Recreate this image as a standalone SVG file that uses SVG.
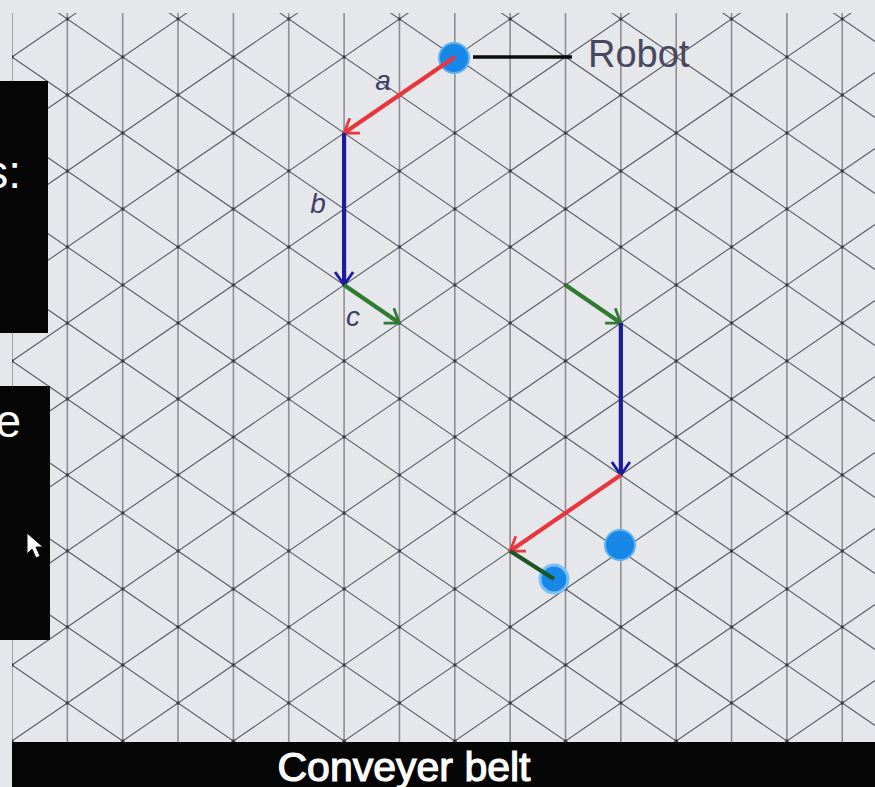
<svg xmlns="http://www.w3.org/2000/svg" width="875" height="787" viewBox="0 0 875 787">
<style>
.vline{stroke:#8e8e96;stroke-width:1.6;fill:none}
.dline{stroke:#5c5c68;stroke-width:1.1;fill:none}
.panel{fill:#050505}
.ptext{font-family:"Liberation Sans",Arial,sans-serif;fill:#ffffff}
.lbl{font-family:"Liberation Sans",Arial,sans-serif;font-style:italic;font-size:28px;fill:#3e3e66;text-anchor:middle}
.red{stroke:#e8363f;stroke-width:4.2;fill:none}
.blue{stroke:#1b1b9c;stroke-width:4.2;fill:none}
.green{stroke:#2f7b30;stroke-width:4.2;fill:none}
.dot{fill:#1788e8;stroke:#5fb2f2;stroke-width:2}
</style>
<defs>
<clipPath id="gridclip"><rect x="12" y="13" width="863" height="729"/></clipPath>
<pattern id="vtx" patternUnits="userSpaceOnUse" x="12" y="19" width="110.7" height="76">
<circle cx="0" cy="38" r="1.7" fill="#3a3a48"/>
<circle cx="110.7" cy="38" r="1.7" fill="#3a3a48"/>
<circle cx="55.35" cy="0" r="1.7" fill="#3a3a48"/>
<circle cx="55.35" cy="76" r="1.7" fill="#3a3a48"/>
</pattern>
<marker id="ah-red" viewBox="-16 -11 18 22" refX="0" refY="0" markerWidth="18" markerHeight="22" markerUnits="userSpaceOnUse" orient="auto"><path d="M-13,-9 L0,0 L-13,9" fill="none" stroke="#e8363f" stroke-width="2.8"/></marker>
<marker id="ah-blue" viewBox="-16 -11 18 22" refX="0" refY="0" markerWidth="18" markerHeight="22" markerUnits="userSpaceOnUse" orient="auto"><path d="M-13,-9 L0,0 L-13,9" fill="none" stroke="#1b1b9c" stroke-width="2.8"/></marker>
<marker id="ah-green" viewBox="-16 -11 18 22" refX="0" refY="0" markerWidth="18" markerHeight="22" markerUnits="userSpaceOnUse" orient="auto"><path d="M-13,-9 L0,0 L-13,9" fill="none" stroke="#2f7b30" stroke-width="2.8"/></marker>
</defs>
<rect x="0" y="0" width="875" height="787" fill="#e6e7eb"/>
<g id="grid" clip-path="url(#gridclip)">
<path class="vline" d="M12,13V742M67.35,13V742M122.7,13V742M178.05,13V742M233.4,13V742M288.75,13V742M344.1,13V742M399.45,13V742M454.8,13V742M510.15,13V742M565.5,13V742M620.85,13V742M676.2,13V742M731.55,13V742M786.9,13V742M842.25,13V742"/>
<path class="dline" d="M12,-551L875,41.48M12,-475L875,117.48M12,-399L875,193.48M12,-323L875,269.48M12,-247L875,345.48M12,-171L875,421.48M12,-95L875,497.48M12,-19L875,573.48M12,57L875,649.48M12,133L875,725.48M12,209L875,801.48M12,285L875,877.48M12,361L875,953.48M12,437L875,1029.48M12,513L875,1105.48M12,589L875,1181.48M12,665L875,1257.48M12,741L875,1333.48"/>
<path class="dline" d="M12,57L875,-535.48M12,133L875,-459.48M12,209L875,-383.48M12,285L875,-307.48M12,361L875,-231.48M12,437L875,-155.48M12,513L875,-79.48M12,589L875,-3.48M12,665L875,72.52M12,741L875,148.52M12,817L875,224.52M12,893L875,300.52M12,969L875,376.52M12,1045L875,452.52M12,1121L875,528.52M12,1197L875,604.52M12,1273L875,680.52"/>
<rect x="12" y="13" width="863" height="729" fill="url(#vtx)"/>
</g>
<g id="panel-top">
<rect class="panel" x="0" y="81" width="48" height="252"/>
<text class="ptext" x="21" y="188" font-size="46" text-anchor="end">s:</text>
</g>
<g id="panel-bottom">
<rect class="panel" x="0" y="386" width="50" height="254"/>
<text class="ptext" x="21" y="437" font-size="46" text-anchor="end">e</text>
<polygon points="27,533 27,554 32,549 36,558 40,556 36,547 43,547" fill="#ffffff" stroke="#111111" stroke-width="1"/>
</g>
<g id="conveyer-belt">
<rect class="panel" x="12" y="742" width="863" height="45"/>
<text class="ptext" x="404" y="781" font-size="41" text-anchor="middle" stroke="#ffffff" stroke-width="1.2">Conveyer belt</text>
</g>
<g id="robot">
<circle class="dot" cx="454" cy="58" r="15"/>
<line x1="473" y1="57" x2="572" y2="57" stroke="#0a0a0a" stroke-width="3.5"/>
<text x="588" y="67" font-family="Liberation Sans, Arial, sans-serif" font-size="38" fill="#47475e">Robot</text>
</g>
<g id="target-dot">
<circle class="dot" cx="620" cy="545" r="15"/>
</g>
<g id="end-dot">
<circle cx="554" cy="579" r="14" fill="#1788e8" stroke="#7cc0f4" stroke-width="3"/>
</g>
<g id="connectors">
<line class="red" x1="454.8" y1="57" x2="344.1" y2="133" marker-end="url(#ah-red)"/>
<line class="blue" x1="344.1" y1="133" x2="344.1" y2="285" marker-end="url(#ah-blue)"/>
<line class="green" x1="344.1" y1="285" x2="399.45" y2="323" marker-end="url(#ah-green)"/>
<line class="green" x1="565.5" y1="285" x2="620.85" y2="323" marker-end="url(#ah-green)"/>
<line class="blue" x1="620.85" y1="323" x2="620.85" y2="475" marker-end="url(#ah-blue)"/>
<line class="red" x1="620.85" y1="475" x2="510.15" y2="551" marker-end="url(#ah-red)"/>
<line x1="510.15" y1="551" x2="554" y2="579" stroke="#1f5626" stroke-width="4.2"/>
</g>
<g id="labels">
<text class="lbl" x="383" y="90">a</text>
<text class="lbl" x="318" y="213">b</text>
<text class="lbl" x="353" y="326">c</text>
</g>
</svg>
